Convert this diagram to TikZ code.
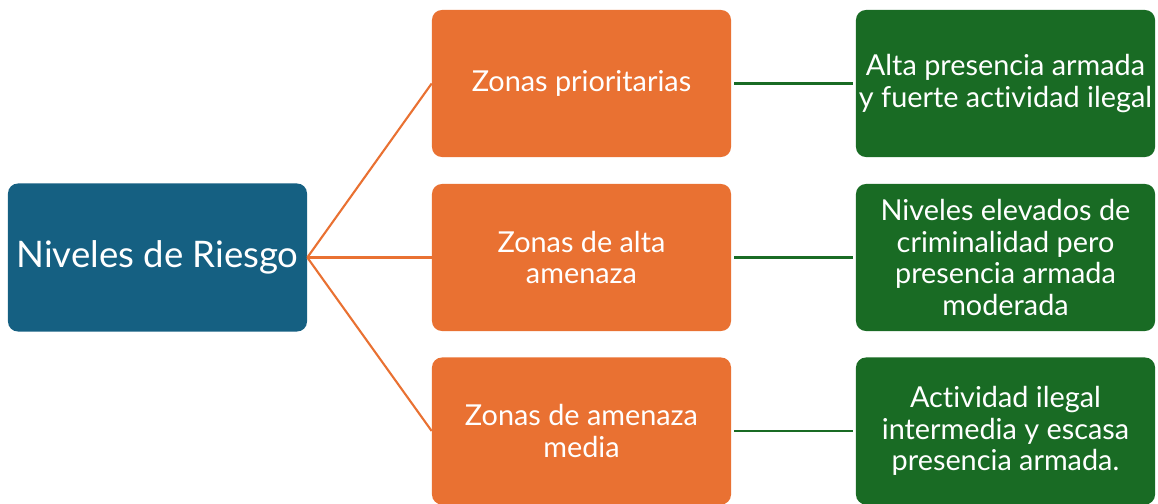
\documentclass[tikz,border=0pt]{standalone}
\usepackage{fontspec}
\setmainfont{Lato}[Ligatures=NoCommon]
\usepackage{tikz}
\usetikzlibrary{positioning}

\definecolor{riskblue}{HTML}{156082}
\definecolor{zoneorange}{HTML}{E97132}
\definecolor{descgreen}{HTML}{196B24}

\tikzset{
  box/.style={rectangle, rounded corners=10*0.025cm, text=white, align=center,
    minimum width=7.475cm, minimum height=3.675cm,
    inner sep=0pt, font=\fontsize{20.5}{22.5}\selectfont},
  rootbox/.style={box, fill=riskblue, minimum height=3.7cm,
    font=\fontsize{26}{30}\selectfont},
  zonebox/.style={box, fill=zoneorange},
  descbox/.style={box, fill=descgreen},
  zoneline/.style={zoneorange, line width=1.5pt},
  descline/.style={descgreen, line width=1.5pt, shorten <=2pt, shorten >=2pt}
}

\begin{document}
\begin{tikzpicture}[x=0.025cm, y=-0.025cm]
  \useasboundingbox (0,0) rectangle (1158,504);

  \node[rootbox] (riesgo) at (157.5,257.5) {Niveles de Riesgo};

  \node[zonebox] (prio)  at (581.5,83.5)  {Zonas prioritarias};
  \node[zonebox] (alta)  at (581.5,257.5) {Zonas de alta\\amenaza};
  \node[zonebox] (media) at (581.5,431)   {Zonas de amenaza\\media};

  \node[descbox] (dprio)  at (1005.5,83.5)  {Alta presencia armada\\y fuerte actividad ilegal};
  \node[descbox] (dalta)  at (1005.5,257.5) {Niveles elevados de\\criminalidad pero\\presencia armada\\moderada};
  \node[descbox] (dmedia) at (1005.5,431)   {Actividad ilegal\\intermedia y escasa\\presencia armada.};

  % ramas
  \foreach \z in {prio,alta,media}
    \draw[zoneline] (riesgo.east) -- (\z.west);
  \foreach \z/\d in {prio/dprio,alta/dalta,media/dmedia}
    \draw[descline] (\z.east) -- (\d.west);
\end{tikzpicture}
\end{document}
